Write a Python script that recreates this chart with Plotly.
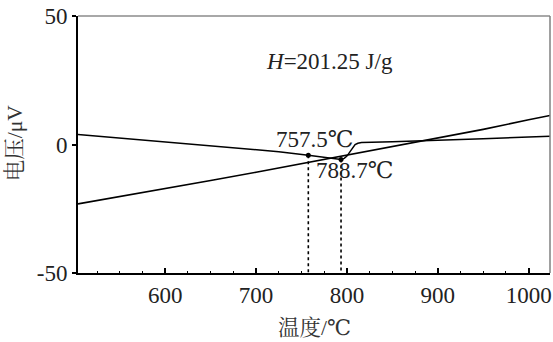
import plotly.graph_objects as go

# Heating curve (descending then step near 800 C)
temp_a = [504, 550, 600, 650, 700, 725, 757.5, 775, 788.7, 793.5, 797, 800, 805, 809, 812, 816, 850, 900, 950, 1000, 1023.5]
volt_a = [3.9, 2.5, 1.0, -0.6, -2.1, -2.8, -4.2, -5.0, -5.6, -5.8, -5.4, -4.5, -2.0, 0.0, 0.5, 0.8, 1.1, 1.6, 2.2, 2.9, 3.2]

# Baseline (rising line)
temp_b = [504, 550, 600, 650, 700, 750, 800, 850, 900, 950, 1000, 1023.5]
volt_b = [-23.1, -20.3, -17.2, -14.0, -10.8, -7.5, -4.2, -0.9, 2.5, 5.9, 9.6, 11.3]

# Characteristic points
peak_t = [757.5, 793.5]
peak_v = [-4.2, -5.8]
peak_labels = ["757.5℃", "788.7℃"]
label_t = [764, 808]
label_v = [2.0, -10.3]

enthalpy_text = "<i>H</i>=201.25 J/g"
x_title = "温度/℃"
y_title = "电压/μV"
y_ticks = [-50, 0, 50]
y_ticktext = ["-50", "0", "50"]

FONT = "Times New Roman, Liberation Serif, Tinos, DejaVu Serif, Noto Serif CJK SC, Noto Sans CJK SC, serif"

fig = go.Figure()
fig.add_trace(go.Scatter(x=temp_b, y=volt_b, mode="lines",
                         line=dict(color="black", width=1.6), showlegend=False))
fig.add_trace(go.Scatter(x=temp_a, y=volt_a, mode="lines",
                         line=dict(color="black", width=1.5), showlegend=False))
for t, v in zip(peak_t, peak_v):
    fig.add_trace(go.Scatter(x=[t, t], y=[v, -50], mode="lines",
                             line=dict(color="black", width=1.6, dash="dot"), showlegend=False))
fig.add_trace(go.Scatter(x=peak_t, y=peak_v, mode="markers",
                         marker=dict(color="black", size=5), showlegend=False))

for t, v, s in zip(label_t, label_v, peak_labels):
    fig.add_annotation(x=t, y=v, xref="x", yref="y", text=s, showarrow=False,
                       xanchor="center", yanchor="middle",
                       font=dict(family=FONT, size=23, color="#222"))
fig.add_annotation(x=780.6, y=32.3, xref="x", yref="y", text=enthalpy_text, showarrow=False,
                   xanchor="center", yanchor="middle",
                   font=dict(family=FONT, size=23, color="#222"))

fig.add_annotation(x=-0.133, y=0.506, xref="paper", yref="paper", text=y_title, textangle=-90,
                   xanchor="center", yanchor="middle",
                   showarrow=False, font=dict(family=FONT, size=21.5, color="#333"))
fig.add_annotation(x=0.5, y=-0.214, xref="paper", yref="paper", text=x_title,
                   xanchor="center", yanchor="middle",
                   showarrow=False, font=dict(family=FONT, size=21.5, color="#333"))

# gray top and right frame
fig.add_shape(type="line", xref="paper", yref="paper", x0=0, x1=1, y0=1, y1=1,
              line=dict(color="#a8a8a8", width=2))
fig.add_shape(type="line", xref="paper", yref="paper", x0=1, x1=1, y0=0, y1=1,
              line=dict(color="#808080", width=1.5))

fig.update_xaxes(range=[504, 1023.5], tick0=0, dtick=100, ticks="inside", ticklen=5,
                 tickwidth=1.5, tickcolor="black", showline=True, linecolor="black", linewidth=2,
                 showgrid=False, zeroline=False, ticklabeloverflow="allow",
                 minor=dict(dtick=25, tick0=0, ticks="inside", ticklen=2.5, tickwidth=1.2, tickcolor="black"),
                 tickfont=dict(family=FONT, size=23, color="#222"))
fig.update_yaxes(range=[-50, 50], tickvals=y_ticks, ticktext=y_ticktext, ticks="outside", ticklen=4,
                 tickwidth=1.5, tickcolor="black", showline=True, linecolor="black", linewidth=2,
                 showgrid=False, zeroline=False,
                 tickfont=dict(family=FONT, size=23, color="#222"))

fig.update_layout(width=553, height=342, margin=dict(l=78, r=1, t=16, b=69),
                  plot_bgcolor="white", paper_bgcolor="white", font=dict(family=FONT))

fig.write_html("out.html")
